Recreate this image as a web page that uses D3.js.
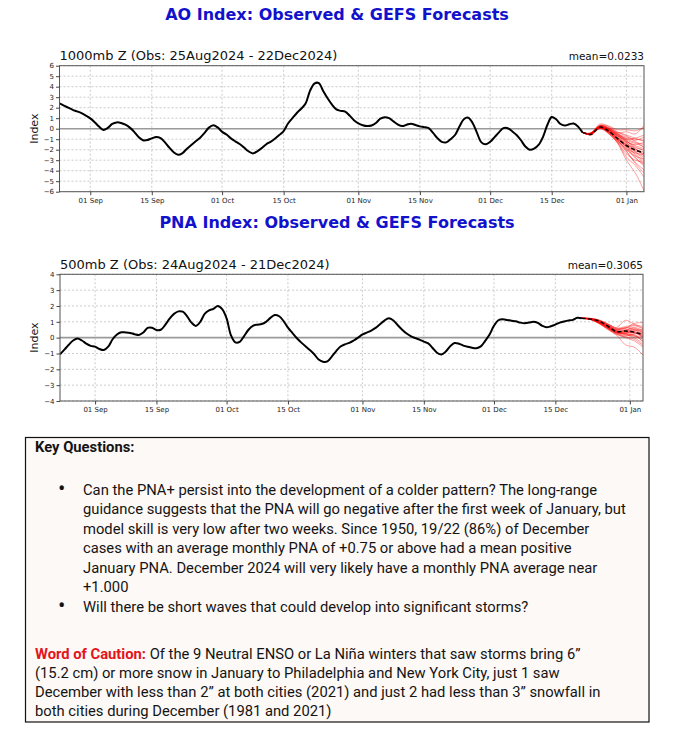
<!DOCTYPE html>
<html><head><meta charset="utf-8">
<script src="https://cdn.jsdelivr.net/npm/d3@7"></script>
<style>body{margin:0;background:#fff} svg{display:block}</style>
</head><body>
<svg id="c" width="685" height="730"></svg>
<script>
// ---------------- DATA ----------------
const xTickDates = ["2024-09-01","2024-09-15","2024-10-01","2024-10-15","2024-11-01","2024-11-15","2024-12-01","2024-12-15","2025-01-01"];

// AO observed, daily from 25 Aug 2024 to 22 Dec 2024
const aoObsStart = "2024-08-25";
const aoObs = [
  2.41, 2.2, 2.0, 1.8, 1.65, 1.48, 1.25,
  0.98, 0.62, 0.2, -0.12, 0.08, 0.45, 0.6, 0.55, 0.38, 0.1, -0.3, -0.8, -1.1, -1.08, -0.92,
  -0.78, -0.9, -1.3, -1.8, -2.25, -2.48, -2.32, -1.9, -1.55, -1.2, -0.86, -0.4, 0.1, 0.32, 0.12,
  -0.3, -0.55, -0.92, -1.2, -1.46, -1.8, -2.15, -2.35, -2.15, -1.85, -1.5, -1.25, -0.95, -0.6, -0.22,
  0.5, 1.0, 1.5, 1.9, 2.4, 3.6, 4.3, 4.35, 3.6, 2.9, 2.3, 1.84, 1.7, 1.62, 1.25, 0.8,
  0.5, 0.33, 0.25, 0.3, 0.55, 0.95, 1.1, 1.0, 0.7, 0.4, 0.25, 0.38, 0.48, 0.35, 0.22,
  0.15, 0.05, -0.4, -0.9, -1.25, -1.3, -1.0, -0.6, 0.2, 0.9, 1.05, 0.55, -0.4, -1.3, -1.48,
  -1.25, -0.8, -0.35, 0.05, 0.05, -0.25, -0.6, -1.1, -1.7, -2.0, -1.9, -1.55, -0.8, 0.35, 1.12,
  0.9, 0.45, 0.3, 0.42, 0.5, 0.2, -0.35
];
const aoFcstDates = ["2024-12-22","2024-12-23","2024-12-24","2024-12-26","2024-12-28","2024-12-30","2025-01-01","2025-01-03","2025-01-05"];
const aoFcstMean = [-0.35, -0.48, -0.54, 0.15, -0.25, -0.95, -1.6, -2.03, -2.3];
const aoMembers = [
  [-0.35,-0.45,-0.40,0.30,0.10,-0.40,-0.30,-0.50,0.30],
  [-0.35,-0.48,-0.45,0.20,-0.10,-0.70,-1.20,-1.60,-1.90],
  [-0.35,-0.52,-0.50,0.10,-0.30,-1.10,-1.90,-2.80,-3.40],
  [-0.35,-0.47,-0.42,0.25,0.00,-0.50,-1.00,-1.30,-1.50],
  [-0.35,-0.50,-0.55,0.05,-0.40,-1.30,-2.70,-3.50,-4.60],
  [-0.35,-0.44,-0.38,0.35,0.20,-0.30,-0.60,-0.90,-1.20],
  [-0.35,-0.49,-0.50,0.15,-0.20,-0.90,-1.60,-2.20,-2.70],
  [-0.35,-0.46,-0.44,0.22,-0.05,-0.80,-1.40,-1.80,-2.00],
  [-0.35,-0.53,-0.60,0.00,-0.50,-1.40,-3.00,-4.20,-5.90],
  [-0.35,-0.47,-0.46,0.18,-0.15,-0.60,-0.90,-1.10,-0.80],
  [-0.35,-0.49,-0.47,0.12,-0.25,-1.00,-1.70,-2.40,-3.10],
  [-0.35,-0.45,-0.41,0.28,0.05,-0.45,-1.10,-1.90,-2.40],
  [-0.35,-0.51,-0.49,0.08,-0.35,-1.20,-2.00,-2.60,-2.90],
  [-0.35,-0.47,-0.43,0.24,-0.08,-0.75,-1.30,-1.50,-1.30],
  [-0.35,-0.52,-0.58,0.06,-0.45,-1.25,-2.20,-3.20,-3.90],
  [-0.35,-0.46,-0.40,0.45,0.25,-0.10,-0.10,-0.20,0.10],
  [-0.35,-0.48,-0.45,0.16,-0.18,-0.85,-1.50,-2.00,-2.20],
  [-0.35,-0.50,-0.47,0.10,-0.28,-0.95,-1.80,-2.70,-3.60],
  [-0.35,-0.47,-0.44,0.20,-0.10,-0.65,-1.20,-1.70,-2.10],
  [-0.35,-0.49,-0.49,0.11,-0.32,-1.15,-1.90,-2.30,-2.50],
  [-0.35,-0.45,-0.39,0.30,0.08,-0.35,-0.70,-1.20,-1.80],
  [-0.35,-0.52,-0.56,0.02,-0.48,-1.35,-2.40,-3.00,-3.20],
  [-0.35,-0.47,-0.45,0.19,-0.12,-0.70,-1.00,-0.90,-0.60],
  [-0.35,-0.48,-0.46,0.14,-0.22,-0.90,-1.60,-2.50,-3.30],
  [-0.35,-0.46,-0.42,0.26,-0.02,-0.55,-1.10,-1.40,-1.70],
  [-0.35,-0.51,-0.50,0.07,-0.38,-1.05,-1.70,-2.10,-2.40],
  [-0.35,-0.47,-0.43,0.21,-0.06,-0.60,-1.30,-2.20,-2.90],
  [-0.35,-0.50,-0.52,0.09,-0.30,-1.10,-2.10,-3.30,-4.20],
  [-0.35,-0.46,-0.44,0.23,-0.04,-0.50,-0.80,-1.00,-1.10],
  [-0.35,-0.49,-0.47,0.13,-0.26,-0.95,-1.50,-1.90,-2.60]
];
const aoYTicks = [-6,-5,-4,-3,-2,-1,0,1,2,3,4,5,6];

// PNA observed, daily from 24 Aug 2024 to 21 Dec 2024
const pnaObsStart = "2024-08-24";
const pnaObs = [
  -1.05, -0.76, -0.45, -0.18, -0.06, -0.18, -0.38, -0.52,
  -0.57, -0.72, -0.78, -0.57, -0.1, 0.2, 0.34, 0.33, 0.3, 0.22, 0.17, 0.32, 0.62, 0.62, 0.48,
  0.5, 0.8, 1.2, 1.5, 1.66, 1.64, 1.35, 0.95, 0.74, 1.0, 1.5, 1.72, 1.82, 2.0, 1.8,
  1.22, 0.15, -0.3, -0.26, 0.1, 0.5, 0.75, 0.82, 0.86, 1.0, 1.25, 1.43, 1.35, 1.05,
  0.63, 0.3, -0.02, -0.3, -0.55, -0.78, -1.05, -1.38, -1.52, -1.5, -1.2, -0.85, -0.56, -0.42, -0.33, -0.18, 0.0,
  0.2, 0.32, 0.45, 0.62, 0.85, 1.08, 1.22, 1.1, 0.8, 0.52, 0.28, 0.1, -0.02, -0.12,
  -0.25, -0.36, -0.65, -0.95, -1.07, -0.88, -0.55, -0.34, -0.38, -0.5, -0.58, -0.64, -0.67, -0.55, -0.2, 0.2,
  0.75, 1.1, 1.16, 1.12, 1.07, 1.03, 0.95, 0.91, 0.95, 1.01, 0.93, 0.75, 0.65, 0.72,
  0.82, 0.95, 1.02, 1.08, 1.12, 1.25, 1.22
];
const pnaFcstDates = ["2024-12-21","2024-12-23","2024-12-25","2024-12-27","2024-12-29","2024-12-31","2025-01-02","2025-01-04"];
const pnaFcstMean = [1.22, 1.17, 1.05, 0.72, 0.38, 0.42, 0.35, 0.17];
const pnaMembers = [
  [1.22,1.22,1.10,0.85,0.60,0.70,0.80,0.70],
  [1.22,1.15,0.95,0.60,0.30,0.20,0.10,-0.20],
  [1.22,1.20,1.05,0.75,0.45,0.40,0.55,0.40],
  [1.22,1.17,0.90,0.55,0.20,0.05,-0.10,-0.50],
  [1.22,1.21,1.08,0.80,0.55,0.60,0.90,0.95],
  [1.22,1.16,0.98,0.65,0.35,0.30,0.30,0.10],
  [1.22,1.19,1.02,0.72,0.42,0.45,0.60,0.30],
  [1.22,1.14,0.88,0.50,0.15,-0.45,-0.60,-1.10],
  [1.22,1.20,1.06,0.78,0.50,0.55,0.35,0.00],
  [1.22,1.18,0.97,0.68,0.38,0.25,0.45,0.50],
  [1.22,1.16,0.93,0.62,0.28,0.15,0.20,-0.30],
  [1.22,1.21,1.12,0.88,0.65,1.10,0.85,0.60],
  [1.22,1.17,0.99,0.66,0.33,0.35,0.15,-0.10],
  [1.22,1.19,1.04,0.74,0.48,0.50,0.65,0.45],
  [1.22,1.15,0.91,0.58,0.25,0.10,0.25,0.20],
  [1.22,1.20,1.07,0.82,0.52,0.65,0.50,0.35],
  [1.22,1.18,0.96,0.64,0.36,0.20,0.00,-0.40],
  [1.22,1.17,1.00,0.70,0.40,0.40,0.40,0.25],
  [1.22,1.16,0.94,0.60,0.30,0.30,0.50,0.15],
  [1.22,1.19,1.03,0.76,0.44,0.30,0.35,0.05],
  [1.22,1.15,0.89,0.54,0.22,0.00,-0.20,-0.60],
  [1.22,1.21,1.09,0.84,0.58,0.60,0.75,0.55],
  [1.22,1.18,0.98,0.67,0.37,0.45,0.30,0.30],
  [1.22,1.17,0.95,0.63,0.32,0.25,0.10,0.10]
];
const pnaYTicks = [-4,-3,-2,-1,0,1,2,3,4];

// ---------------- DRAWING ----------------
const svg = d3.select("#c");
svg.append("rect").attr("width",685).attr("height",730).attr("fill","#fff");
const parse = d3.utcParse("%Y-%m-%d");
const fmtTick = d3.utcFormat("%d %b");
const chartFont = "'DejaVu Sans', sans-serif";

function panel(o){
  const x = d3.scaleUtc().domain([parse(o.d0), parse(o.d1)]).range([o.left, o.right]);
  const y = d3.scaleLinear().domain([o.yTicks[0], o.yTicks[o.yTicks.length-1]]).range([o.bottom, o.top]);
  const g = svg.append("g");
  const clipId = "clip" + o.id;
  svg.append("clipPath").attr("id", clipId).append("rect")
    .attr("x", o.left).attr("y", o.top).attr("width", o.right-o.left).attr("height", o.bottom-o.top);

  // titles
  svg.append("text").attr("x", 337).attr("y", o.titleY).attr("text-anchor","middle")
    .attr("font-family", chartFont).attr("font-weight","bold").attr("font-size",16)
    .attr("fill","#1212cc").text(o.title);
  svg.append("text").attr("x", o.left).attr("y", o.top - 5.5)
    .attr("font-family", chartFont).attr("font-size",13).attr("fill","#111").text(o.subtitle);
  svg.append("text").attr("x", o.right).attr("y", o.top - 5.5).attr("text-anchor","end")
    .attr("font-family", chartFont).attr("font-size",10.5).attr("fill","#111").text(o.meanText);

  // grid
  const xt = xTickDates.map(parse);
  g.selectAll(null).data(o.yTicks.filter(v => v !== 0)).join("line")
    .attr("x1", o.left).attr("x2", o.right).attr("y1", d => y(d)).attr("y2", d => y(d))
    .attr("stroke","#bdbdbd").attr("stroke-width",0.8).attr("stroke-dasharray","2,2");
  g.selectAll(null).data(xt).join("line")
    .attr("x1", d => x(d)).attr("x2", d => x(d)).attr("y1", o.top).attr("y2", o.bottom)
    .attr("stroke","#bdbdbd").attr("stroke-width",0.8).attr("stroke-dasharray","2,2");
  g.append("line").attr("x1", o.left).attr("x2", o.right).attr("y1", y(0)).attr("y2", y(0))
    .attr("stroke","#9a9a9a").attr("stroke-width",1.6);

  const line = d3.line().x(d => x(d[0])).y(d => y(d[1])).curve(d3.curveCatmullRom);
  const cg = g.append("g").attr("clip-path", `url(#${clipId})`);
  const fd = o.fcstDates.map(parse);
  o.members.forEach(m => {
    cg.append("path").datum(fd.map((d,i) => [d, m[i]])).attr("d", line)
      .attr("fill","none").attr("stroke","#ff0000").attr("stroke-opacity",0.55).attr("stroke-width",0.7);
  });
  cg.append("path").datum(fd.map((d,i) => [d, o.fcstMean[i]])).attr("d", line)
    .attr("fill","none").attr("stroke","#000").attr("stroke-width",1.5).attr("stroke-dasharray","4,2.5");
  const s0 = parse(o.obsStart);
  const obsData = o.obs.map((v,i) => [d3.utcDay.offset(s0, i), v]);
  cg.append("path").datum(obsData).attr("d", line)
    .attr("fill","none").attr("stroke","#000").attr("stroke-width",2).attr("stroke-linejoin","round");

  // frame
  g.append("rect").attr("x", o.left).attr("y", o.top).attr("width", o.right-o.left).attr("height", o.bottom-o.top)
    .attr("fill","none").attr("stroke","#555").attr("stroke-width",1);

  // axes
  const ax = svg.append("g").attr("transform", `translate(0,${o.bottom})`)
    .call(d3.axisBottom(x).tickValues(xt).tickFormat(fmtTick).tickSize(3.5).tickPadding(2.5));
  const ay = svg.append("g").attr("transform", `translate(${o.left},0)`)
    .call(d3.axisLeft(y).tickValues(o.yTicks).tickFormat(d3.format("d")).tickSize(3.5).tickPadding(2));
  [ax, ay].forEach(a => {
    a.select(".domain").remove();
    a.selectAll("text").attr("font-family", chartFont).attr("font-size",7).attr("fill","#222");
    a.selectAll("line").attr("stroke","#444");
  });
  svg.append("text").attr("transform", `translate(38,${(o.top+o.bottom)/2}) rotate(-90)`)
    .attr("text-anchor","middle").attr("font-family", chartFont).attr("font-size",11).attr("fill","#111").text("Index");
}

panel({id:"ao", title:"AO Index: Observed & GEFS Forecasts", titleY:20,
  subtitle:"1000mb Z (Obs: 25Aug2024 - 22Dec2024)", meanText:"mean=0.0233",
  left:59.5, right:644, top:65.7, bottom:191.7, d0:"2024-08-25", d1:"2025-01-05",
  yTicks:aoYTicks, obsStart:aoObsStart, obs:aoObs, fcstDates:aoFcstDates, fcstMean:aoFcstMean, members:aoMembers});

panel({id:"pna", title:"PNA Index: Observed & GEFS Forecasts", titleY:228,
  subtitle:"500mb Z (Obs: 24Aug2024 - 21Dec2024)", meanText:"mean=0.3065",
  left:60, right:643, top:274.3, bottom:401, d0:"2024-08-24", d1:"2025-01-04",
  yTicks:pnaYTicks, obsStart:pnaObsStart, obs:pnaObs, fcstDates:pnaFcstDates, fcstMean:pnaFcstMean, members:pnaMembers});

// ---------------- TEXT BOX ----------------
svg.append("rect").attr("x",25.5).attr("y",437.5).attr("width",623.5).attr("height",284.5)
  .attr("fill","#fdf9f7").attr("stroke","#111").attr("stroke-width",1.2);

const bodyFont = "Roboto, 'Liberation Sans', sans-serif";
const fs = 14.5;
const bullet1 = [
  "Can the PNA+ persist into the development of a colder pattern? The long-range",
  "guidance suggests that the PNA will go negative after the first week of January, but",
  "model skill is very low after two weeks. Since 1950, 19/22 (86%) of December",
  "cases with an average monthly PNA of +0.75 or above had a mean positive",
  "January PNA. December 2024 will very likely have a monthly PNA average near",
  "+1.000"
];
const bullet2 = "Will there be short waves that could develop into significant storms?";
const caution = [
  " Of the 9 Neutral ENSO or La Niña winters that saw storms bring 6\u201d",
  "(15.2 cm) or more snow in January to Philadelphia and New York City, just 1 saw",
  "December with less than 2\u201d at both cities (2021) and just 2 had less than 3\u201d snowfall in",
  "both cities during December (1981 and 2021)"
];
// measure
const tmp = svg.append("text").attr("font-family", bodyFont).attr("font-size", fs).text(bullet1[1]);
const wNat = tmp.node().getComputedTextLength();
tmp.remove();
const sx = 543 / wNat;

function tline(x, yb, parts){
  const t = svg.append("g").attr("transform", `translate(${x},${yb}) scale(${sx},1)`)
    .append("text").attr("font-family", bodyFont).attr("font-size", fs).attr("fill","#141414");
  parts.forEach(p => t.append("tspan").attr("font-weight", p.b ? "bold" : null).attr("fill", p.c || null).text(p.t));
}
function bulletDot(x, yb){
  svg.append("text").attr("x", x).attr("y", yb + 1).attr("font-family", bodyFont)
    .attr("font-size", 22).attr("fill","#141414").text("\u2022");
}
tline(35, 452, [{t:"Key Questions:", b:true}]);
const b1y = [495, 514.4, 533.8, 553.2, 572.6, 592];
bulletDot(58, b1y[0]);
bullet1.forEach((s,i) => tline(83, b1y[i], [{t:s}]));
bulletDot(58, 612);
tline(83, 612, [{t:bullet2}]);
const cy = [659, 678, 697, 716];
tline(35, cy[0], [{t:"Word of Caution:", b:true, c:"#e3141b"}, {t:caution[0]}]);
caution.slice(1).forEach((s,i) => tline(35, cy[i+1], [{t:s}]));
</script>
</body></html>
